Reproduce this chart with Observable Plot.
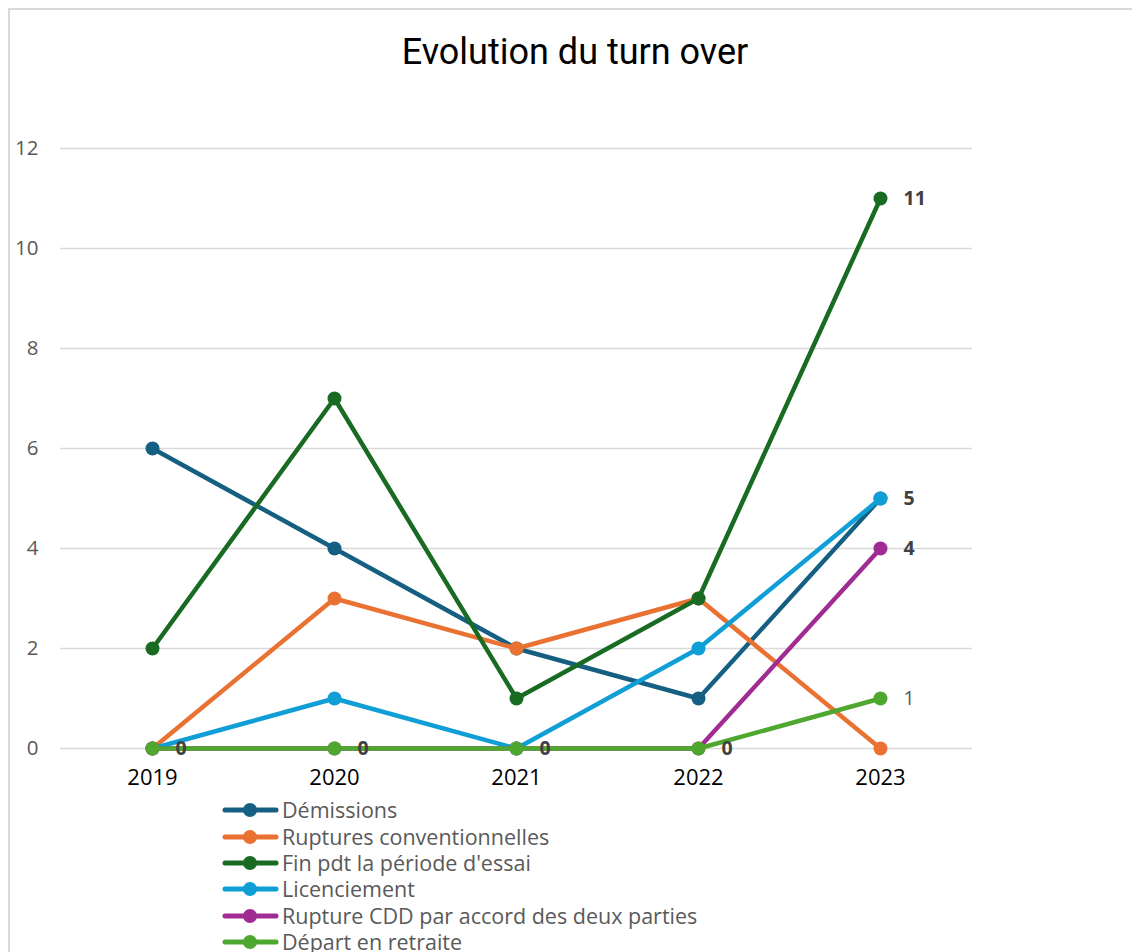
<!DOCTYPE html>
<html>
<head>
<meta charset="utf-8">
<script src="https://cdn.jsdelivr.net/npm/d3@7"></script>
<script src="https://cdn.jsdelivr.net/npm/@observablehq/plot@0.6"></script>
<style>
  html, body { margin: 0; padding: 0; background: #fff; overflow: hidden; }
  #page { position: relative; width: 1132px; height: 952px; overflow: hidden; background: #fff; }
  #frame { position: absolute; left: 8px; top: 8px; width: 1200px; height: 1000px; border: 2px solid #d9d9d9; box-sizing: border-box; }
  #title { position: absolute; left: 0; width: 1150px; top: 30px; text-align: center; font-family: "Roboto", sans-serif; font-size: 36px; color: #000; line-height: 44px; }
  #chart { position: absolute; left: 0; top: 0; }
  #legend { position: absolute; left: 222px; top: 797px; font-family: "Open Sans", sans-serif; font-size: 21.5px; color: #595959; line-height: 26px; }
  .item { height: 26.4px; display: flex; align-items: center; white-space: nowrap; }
  .item span { line-height: 26px; }
  .item svg { margin-right: 3px; }
</style>
</head>
<body>
<div id="page">
  <div id="frame"></div>
  <div id="chart"></div>
  <div id="title">Evolution du turn over</div>
  <div id="legend"></div>
</div>
<script>
const years = ["2019", "2020", "2021", "2022", "2023"];
const seriesNames = [
  "Démissions",
  "Ruptures conventionnelles",
  "Fin pdt la période d'essai",
  "Licenciement",
  "Rupture CDD par accord des deux parties",
  "Départ en retraite"
];
const seriesColors = ["#156082", "#E97132", "#196B24", "#0F9ED5", "#A02B93", "#4EA72E"];
const demissions = [6, 4, 2, 1, 5];
const rupturesConv = [0, 3, 2, 3, 0];
const finPeriodeEssai = [2, 7, 1, 3, 11];
const licenciement = [0, 1, 0, 2, 5];
const ruptureCDD = [0, 0, 0, 0, 4];
const departRetraite = [0, 0, 0, 0, 1];
const seriesValues = [demissions, rupturesConv, finPeriodeEssai, licenciement, ruptureCDD, departRetraite];

const labelYears = ["2019", "2020", "2021", "2022", "2023", "2023", "2023", "2023"];
const labelValues = [0, 0, 0, 0, 11, 5, 4, 1];
const labelBold = [true, true, true, true, true, true, true, false];

const yTicks = [0, 2, 4, 6, 8, 10, 12];

const data = seriesNames.flatMap((s, i) => seriesValues[i].map((v, j) => ({series: s, year: years[j], value: v})));
const labels = labelValues.map((v, i) => ({year: labelYears[i], value: v, bold: labelBold[i]}));

const seriesMarks = seriesNames.flatMap((s) => {
  const d = data.filter(r => r.series === s);
  return [
    Plot.lineY(d, {x: "year", y: "value", stroke: "series", strokeWidth: 4.5, strokeLinejoin: "round"}),
    Plot.dot(d, {x: "year", y: "value", fill: "series", r: 7})
  ];
});

const chart = Plot.plot({
  width: 1132,
  height: 800,
  marginTop: 148,
  marginBottom: 52,
  marginLeft: 60,
  marginRight: 160,
  x: {type: "point", domain: years, padding: 0.5, label: null},
  y: {domain: [0, 12], label: null},
  color: {domain: seriesNames, range: seriesColors},
  style: {fontFamily: "Open Sans, sans-serif", fontSize: "18px", color: "#595959", background: "transparent"},
  marks: [
    Plot.gridY(yTicks, {stroke: "#d9d9d9", strokeOpacity: 1, strokeWidth: 1.5}),
    Plot.axisY(yTicks, {tickSize: 0, tickPadding: 22, tickFormat: d => String(d), fill: "#595959", fontSize: 20.5, label: null}),
    Plot.axisX({tickSize: 0, tickPadding: 21, fill: "#000", fontSize: 22, label: null}),
    ...seriesMarks,
    Plot.text(labels.filter(d => d.bold), {x: "year", y: "value", text: d => String(d.value), textAnchor: "start", dx: 23, fill: "#404040", fontWeight: "bold", fontSize: 19.5}),
    Plot.text(labels.filter(d => !d.bold), {x: "year", y: "value", text: d => String(d.value), textAnchor: "start", dx: 23, fill: "#595959", fontSize: 19.5})
  ]
});
document.getElementById("chart").appendChild(chart);

const legend = document.getElementById("legend");
seriesNames.forEach((s, i) => {
  const item = document.createElement("div");
  item.className = "item";
  item.innerHTML = `<svg width="57" height="16"><line x1="3" y1="8" x2="54" y2="8" stroke="${seriesColors[i]}" stroke-width="5" stroke-linecap="round"/><circle cx="28" cy="8" r="7" fill="${seriesColors[i]}"/></svg><span>${s}</span>`;
  legend.appendChild(item);
});
</script>
</body>
</html>
